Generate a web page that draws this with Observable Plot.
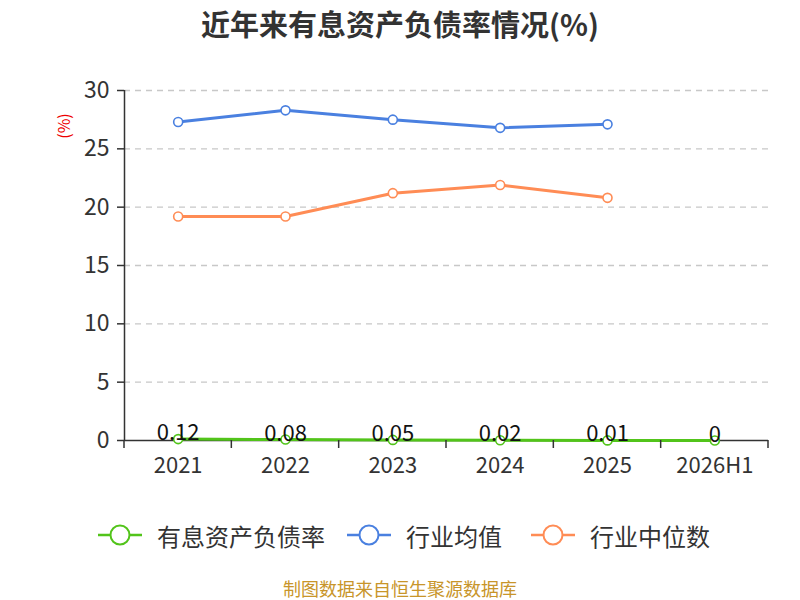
<!DOCTYPE html>
<html>
<head>
<meta charset="utf-8">
<script src="https://cdn.jsdelivr.net/npm/d3@7"></script>
<script src="https://cdn.jsdelivr.net/npm/@observablehq/plot@0.6"></script>
<style>
  body { margin: 0; width: 800px; height: 600px; position: relative; background: #fff; font-family: "Noto Sans CJK SC", "Noto Sans", sans-serif; overflow: hidden; }
  #title { position: absolute; top: 2px; left: 0; width: 800px; text-align: center; font-size: 29px; font-weight: bold; color: #333; }
  #chart { position: absolute; top: 45px; left: 0; }
  #ylabel { position: absolute; left: 50px; top: 114px; color: #e00; font-size: 16px; transform: rotate(-90deg); transform-origin: center; }
  #legend { position: absolute; top: 515px; left: 0; width: 800px; height: 40px; }
  .item { position: absolute; top: 0; display: flex; align-items: center; font-size: 24px; color: #333; }
  .item svg { margin-right: 14px; }
  #caption { position: absolute; top: 578px; left: 0; width: 800px; text-align: center; font-size: 18px; line-height: 20px; color: #c8952a; }
</style>
</head>
<body>
<div id="title">近年来有息资产负债率情况(%)</div>
<div id="ylabel">(%)</div>
<div id="chart"></div>
<div id="legend"></div>
<div id="caption">制图数据来自恒生聚源数据库</div>
<script>
const categories = ["2021", "2022", "2023", "2024", "2025", "2026H1"];
const debtRatio = [0.12, 0.08, 0.05, 0.02, 0.01, 0];
const industryMean = [27.3, 28.3, 27.5, 26.8, 27.1];
const industryMedian = [19.2, 19.2, 21.2, 21.9, 20.8];
const yTicks = [0, 5, 10, 15, 20, 25, 30];

const seriesNames = ["有息资产负债率", "行业均值", "行业中位数"];
const colors = ["#52c41a", "#4a80e0", "#ff8c55"];

const rows = (vals, name) => vals.map((v, i) => ({i, v, name}));
const green = rows(debtRatio, seriesNames[0]);
const blue = rows(industryMean, seriesNames[1]);
const orange = rows(industryMedian, seriesNames[2]);

const catIdx = categories.map((_, i) => i);
const bounds = [...catIdx.map(i => i - 0.5), categories.length - 0.5];

const chart = Plot.plot({
  width: 800,
  height: 470,
  marginTop: 45,
  marginBottom: 75,
  marginLeft: 124,
  marginRight: 32,
  style: {fontFamily: "'Noto Sans CJK SC', 'Noto Sans', sans-serif", fontSize: "22px", color: "#333", background: "transparent"},
  x: {type: "linear", domain: [-0.5, categories.length - 0.5]},
  y: {domain: [0, 30]},
  marks: [
    Plot.gridY(yTicks.filter(t => t > 0), {stroke: "#c8c8c8", strokeOpacity: 1, strokeDasharray: "6,5", strokeWidth: 1.3}),
    Plot.axisY(yTicks, {tickSize: 7, tickPadding: 8, fontSize: 23, fill: "#333", stroke: "#333", strokeWidth: 1.5, label: null}),
    Plot.ruleX([-0.5], {y1: 0, y2: 30, stroke: "#333", strokeWidth: 1.5}),
    Plot.axisX(catIdx, {tickSize: 0, tickPadding: 17, fontSize: 22, fill: "#333", tickFormat: i => categories[i], label: null}),
    Plot.ruleY([0], {stroke: "#333", strokeWidth: 1.5}),
    Plot.line(blue, {x: "i", y: "v", stroke: colors[1], strokeWidth: 3}),
    Plot.line(orange, {x: "i", y: "v", stroke: colors[2], strokeWidth: 3}),
    Plot.line(green, {x: "i", y: "v", stroke: colors[0], strokeWidth: 3}),
    Plot.dot(blue, {x: "i", y: "v", r: 4.5, fill: "#fff", stroke: colors[1], strokeWidth: 1.6}),
    Plot.dot(orange, {x: "i", y: "v", r: 4.5, fill: "#fff", stroke: colors[2], strokeWidth: 1.6}),
    Plot.dot(green, {x: "i", y: "v", r: 4.5, fill: "#fff", stroke: colors[0], strokeWidth: 1.6}),
    Plot.text(green, {x: "i", y: "v", text: d => String(d.v), dy: -6, fontSize: 22, fill: "#111"})
  ]
});
document.getElementById("chart").appendChild(chart);

// boundary tick marks below the x axis, positioned by the x scale
{
  const svg = d3.select(chart);
  const xs = chart.scale("x");
  const ys = chart.scale("y");
  const y0 = ys.apply(0);
  svg.append("g").selectAll("line").data(bounds).join("line")
    .attr("x1", d => xs.apply(d)).attr("x2", d => xs.apply(d))
    .attr("y1", y0).attr("y2", y0 + 8)
    .attr("stroke", "#333").attr("stroke-width", 1.5);
}

const legendX = [97, 346, 530];
const legend = document.getElementById("legend");
seriesNames.forEach((name, k) => {
  const item = document.createElement("div");
  item.className = "item";
  item.style.left = legendX[k] + "px";
  item.innerHTML = `<svg width="46" height="40"><line x1="1" y1="20" x2="45" y2="20" stroke="${colors[k]}" stroke-width="2.5"/><circle cx="23" cy="20" r="9.5" fill="#fff" stroke="${colors[k]}" stroke-width="2"/></svg><span>${name}</span>`;
  legend.appendChild(item);
});
</script>
</body>
</html>
